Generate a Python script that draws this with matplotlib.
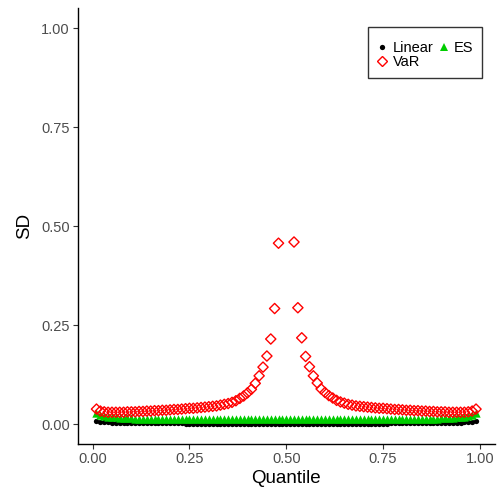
import numpy as np
import matplotlib
matplotlib.use("Agg")
import matplotlib.pyplot as plt
from matplotlib.lines import Line2D

plt.rcParams['font.family'] = ['Liberation Sans', 'DejaVu Sans']

quantile = [round(0.01 * i, 2) for i in range(1, 100)]

var_left = [0.038, 0.033, 0.031, 0.030, 0.030, 0.030, 0.030, 0.030, 0.031, 0.031,
            0.031, 0.032, 0.032, 0.033, 0.033, 0.034, 0.034, 0.035, 0.035, 0.036,
            0.037, 0.037, 0.038, 0.039, 0.040, 0.040, 0.041, 0.042, 0.043, 0.044,
            0.045, 0.046, 0.048, 0.050, 0.052, 0.055, 0.059, 0.065, 0.071, 0.079,
            0.088, 0.103, 0.122, 0.144, 0.172, 0.215, 0.292, 0.457]
var_mid = [np.nan, np.nan, np.nan]
var_right = [0.460, 0.294, 0.218, 0.171, 0.145, 0.122, 0.104, 0.089, 0.080, 0.072,
             0.066, 0.060, 0.056, 0.053, 0.050, 0.048, 0.046, 0.045, 0.044, 0.043,
             0.042, 0.041, 0.040, 0.040, 0.039, 0.038, 0.037, 0.037, 0.036, 0.035,
             0.035, 0.034, 0.034, 0.033, 0.033, 0.032, 0.032, 0.031, 0.031, 0.031,
             0.030, 0.030, 0.030, 0.030, 0.030, 0.031, 0.033, 0.038]
var_sd = var_left + var_mid + var_right

es_sd = [0.029, 0.024, 0.021, 0.019, 0.018, 0.017, 0.016, 0.016, 0.015, 0.015,
         0.014, 0.014, 0.014, 0.014, 0.014, 0.014, 0.014, 0.014, 0.014, 0.014,
         0.013, 0.013, 0.013, 0.013, 0.013, 0.013, 0.013, 0.013, 0.013, 0.013,
         0.013, 0.013, 0.013, 0.013, 0.013, 0.013, 0.013, 0.013, 0.013, 0.013,
         0.013, 0.013, 0.013, 0.013, 0.013, 0.013, 0.013, 0.013, 0.013, 0.013,
         0.013, 0.013, 0.013, 0.013, 0.013, 0.013, 0.013, 0.013, 0.013, 0.013,
         0.013, 0.013, 0.013, 0.013, 0.013, 0.013, 0.013, 0.013, 0.013, 0.013,
         0.013, 0.013, 0.013, 0.013, 0.013, 0.013, 0.013, 0.013, 0.013, 0.014,
         0.014, 0.014, 0.014, 0.014, 0.014, 0.014, 0.014, 0.014, 0.014, 0.015,
         0.015, 0.016, 0.016, 0.017, 0.018, 0.019, 0.021, 0.024, 0.029]

linear_sd = [0.0070, 0.0060, 0.0050, 0.0045, 0.0040, 0.0037, 0.0034, 0.0031, 0.0029, 0.0027,
             0.0025, 0.0024, 0.0023, 0.0022, 0.0021, 0.0020, 0.0019, 0.0018, 0.0018, 0.0017,
             0.0017, 0.0016, 0.0016, 0.0015, 0.0015, 0.0015, 0.0014, 0.0014, 0.0014, 0.0013,
             0.0013, 0.0013, 0.0012, 0.0012, 0.0012, 0.0012, 0.0011, 0.0011, 0.0011, 0.0011,
             0.0011, 0.0010, 0.0010, 0.0010, 0.0010, 0.0010, 0.0010, 0.0010, 0.0010, 0.0010,
             0.0010, 0.0010, 0.0010, 0.0010, 0.0010, 0.0010, 0.0010, 0.0010, 0.0011, 0.0011,
             0.0011, 0.0011, 0.0011, 0.0012, 0.0012, 0.0012, 0.0012, 0.0013, 0.0013, 0.0013,
             0.0014, 0.0014, 0.0014, 0.0015, 0.0015, 0.0015, 0.0016, 0.0016, 0.0017, 0.0017,
             0.0018, 0.0018, 0.0019, 0.0020, 0.0021, 0.0022, 0.0023, 0.0024, 0.0025, 0.0027,
             0.0029, 0.0031, 0.0034, 0.0037, 0.0040, 0.0045, 0.0050, 0.0060, 0.0070]

series_labels = ["Linear", "ES", "VaR"]
x_ticks = [0.00, 0.25, 0.50, 0.75, 1.00]
y_ticks = [0.00, 0.25, 0.50, 0.75, 1.00]
tick_labels = ["0.00", "0.25", "0.50", "0.75", "1.00"]

fig = plt.figure(figsize=(5.0, 4.96), dpi=100)
ax = fig.add_axes([0.155, 0.105, 0.835, 0.878])

ax.scatter(quantile, linear_sd, marker='o', s=3.8**2, color='black', linewidths=0, zorder=3)
ax.scatter(quantile, es_sd, marker='^', s=6.0**2, color='#00CD00', linewidths=0, zorder=4)
ax.scatter(quantile, var_sd, marker='D', s=5.2**2, facecolors='none', edgecolors='#FF0000',
           linewidths=1.0, zorder=5)

ax.set_xlim(-0.039, 1.039)
ax.set_ylim(-0.05, 1.05)
ax.set_xticks(x_ticks)
ax.set_xticklabels(tick_labels)
ax.set_yticks(y_ticks)
ax.set_yticklabels(tick_labels)
ax.tick_params(axis='both', labelsize=10.5, labelcolor='#4D4D4D', color='#333333',
               length=3.5, width=0.8, pad=2)
for s in ['top', 'right']:
    ax.spines[s].set_visible(False)
for s in ['left', 'bottom']:
    ax.spines[s].set_linewidth(1.0)
    ax.spines[s].set_color('black')

ax.set_xlabel("Quantile", fontsize=13.5, labelpad=3)
ax.set_ylabel("SD", fontsize=13.5, labelpad=6)

h_lin = Line2D([], [], marker='o', linestyle='none', color='black', markersize=3.8,
               markeredgewidth=0)
h_es = Line2D([], [], marker='^', linestyle='none', color='#00CD00', markersize=6.0,
              markeredgewidth=0)
h_var = Line2D([], [], marker='D', linestyle='none', markerfacecolor='none',
               markeredgecolor='#FF0000', markersize=5.2, markeredgewidth=1.0)
leg = ax.legend([h_lin, h_var, h_es], [series_labels[0], series_labels[2], series_labels[1]],
                ncol=2, loc='upper right', bbox_to_anchor=(482 / 500, 1 - 27 / 496),
                bbox_transform=fig.transFigure, fontsize=10.5, frameon=True, fancybox=False,
                edgecolor='black', handlelength=0.8, handletextpad=0.3, columnspacing=0.3,
                labelspacing=0.0, borderpad=0.6, borderaxespad=0,
                title=' ', title_fontsize=4)
leg.get_frame().set_linewidth(1.0)

fig.savefig("out.png", dpi=100)
